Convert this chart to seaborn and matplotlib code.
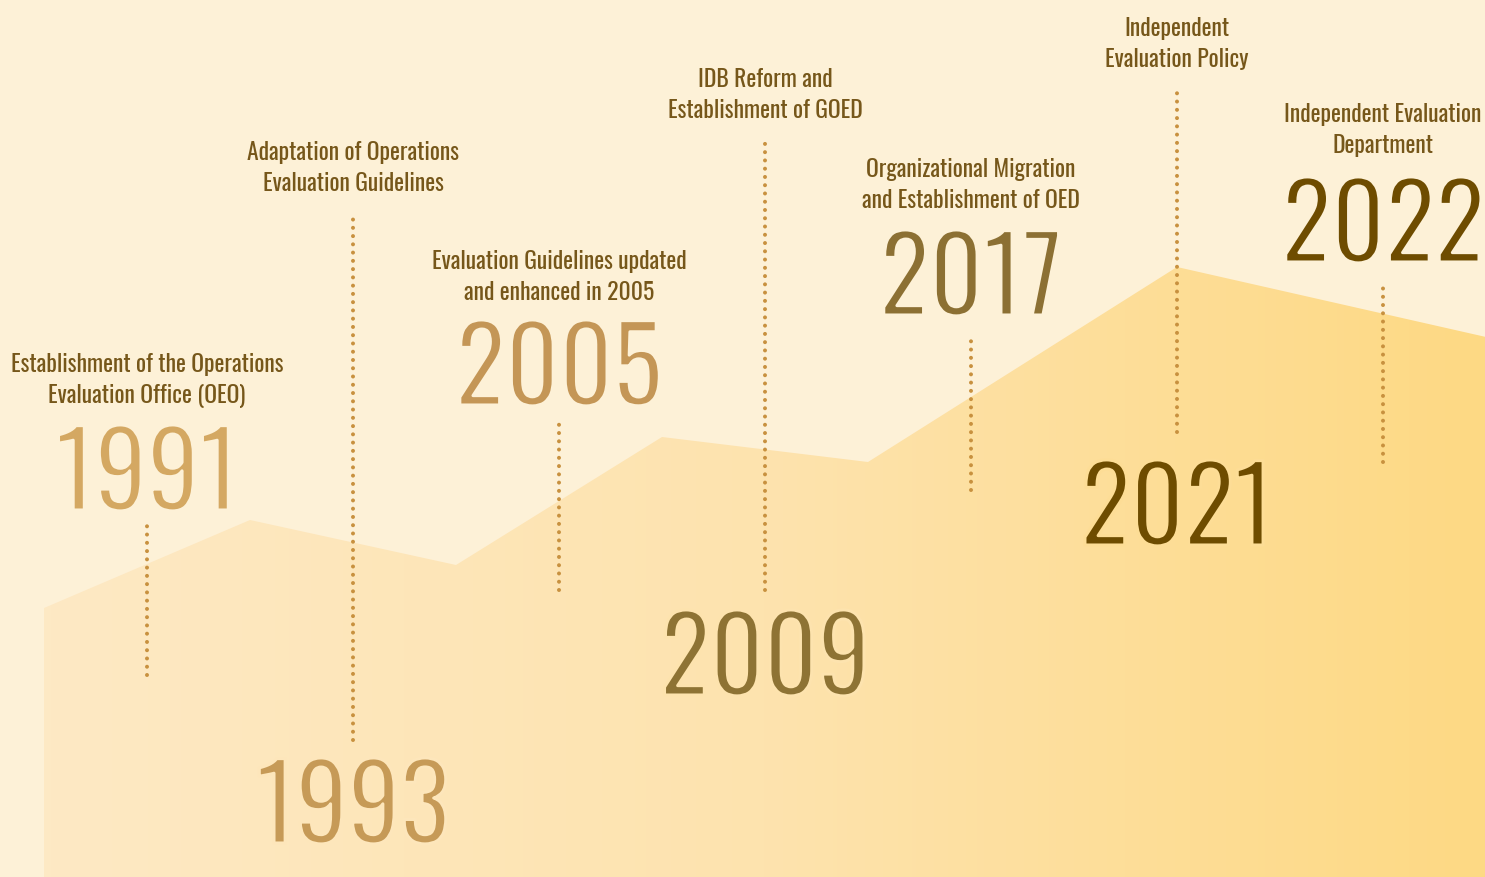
import numpy as np
import pandas as pd
import matplotlib
matplotlib.use("Agg")
import matplotlib.pyplot as plt
import matplotlib.patheffects as pe
from matplotlib.colors import LinearSegmentedColormap
import seaborn as sns

# Timeline events (one per column, x = event index)
years = ["1991", "1993", "2005", "2009", "2017", "2021", "2022"]
labels = [
    "Establishment of the Operations\nEvaluation Office (OEO)",
    "Adaptation of Operations\nEvaluation Guidelines",
    "Evaluation Guidelines updated\nand enhanced in 2005",
    "IDB Reform and\nEstablishment of GOED",
    "Organizational Migration\nand Establishment of OED",
    "Independent\nEvaluation Policy",
    "Independent Evaluation\nDepartment",
]
year_colors = ["#D4A862", "#C69A57", "#C49656", "#8E7334", "#8C7033", "#6E4C00", "#6E4C00"]
on_band = [False, True, False, True, False, True, False]  # year sits on the band

# vertical levels (height above the bottom, in px-like units, 0..877)
year_base = [367, 34, 472, 182, 562, 332, 615]      # baseline of the big year
label_base = [474, 686, 577, 759, 669, 810, 724]    # baseline of last label line
stem_top = [352, 664, 457, 735, 542, 785, 595]
stem_bottom = [202, 137, 287, 287, 387, 445, 415]

# rising background band
band_x = [-0.5, 0.5, 1.5, 2.5, 3.5, 5.0, 6.5]
band_h = [269, 357, 312, 440, 415, 610, 540]

sns.set_theme(style="white")
plt.rcParams["font.family"] = ["Oswald", "DejaVu Sans"]

bg = "#FDF1D7"
fig = plt.figure(figsize=(14.85, 8.77), dpi=100, facecolor=bg)
ax = fig.add_axes([0, 0, 1, 1])
ax.set_facecolor(bg)
x_left, x_right = -147 / 206, (1485 - 147) / 206
ax.axis("off")

# band filled with a left-to-right gradient
poly = ax.fill_between(band_x, band_h, 0, color="none", lw=0)
cmap = LinearSegmentedColormap.from_list("band", ["#FDE9C4", "#FDE3AE", "#FDD984"])
grad = np.linspace(0, 1, 400).reshape(1, -1)
im = ax.imshow(grad, cmap=cmap, aspect="auto", extent=[band_x[0], x_right, 0, 877],
               origin="lower", zorder=1)
im.set_clip_path(poly.get_paths()[0], transform=ax.transData)

# dotted stems
stems = pd.DataFrame({
    "event": np.repeat(years, 2),
    "x": np.repeat(np.arange(len(years)), 2),
    "h": np.ravel(np.column_stack([stem_bottom, stem_top])),
})
sns.lineplot(data=stems, x="x", y="h", units="event", estimator=None, sort=False,
             color="#C8913F", lw=2.9, linestyle=(0, (0.001, 2.05)),
             dash_capstyle="round", ax=ax, zorder=3, legend=False)

for i, yr in enumerate(years):
    # thin the glyphs a little by tracing them in the colour behind them
    behind = cmap((i - band_x[0]) / (x_right - band_x[0])) if on_band[i] else bg
    ax.text(i, year_base[i], yr, ha="center", va="baseline", fontsize=75,
            color=year_colors[i], zorder=4,
            path_effects=[pe.Normal(), pe.Stroke(linewidth=2.2, foreground=behind)])
    ax.text(i, label_base[i], labels[i], ha="center", va="baseline", fontsize=17,
            color="#76571A", linespacing=1.4, zorder=4)

ax.set_xlim(x_left, x_right)
ax.set_ylim(0, 877)
fig.savefig("out.png", dpi=100, facecolor=bg)
